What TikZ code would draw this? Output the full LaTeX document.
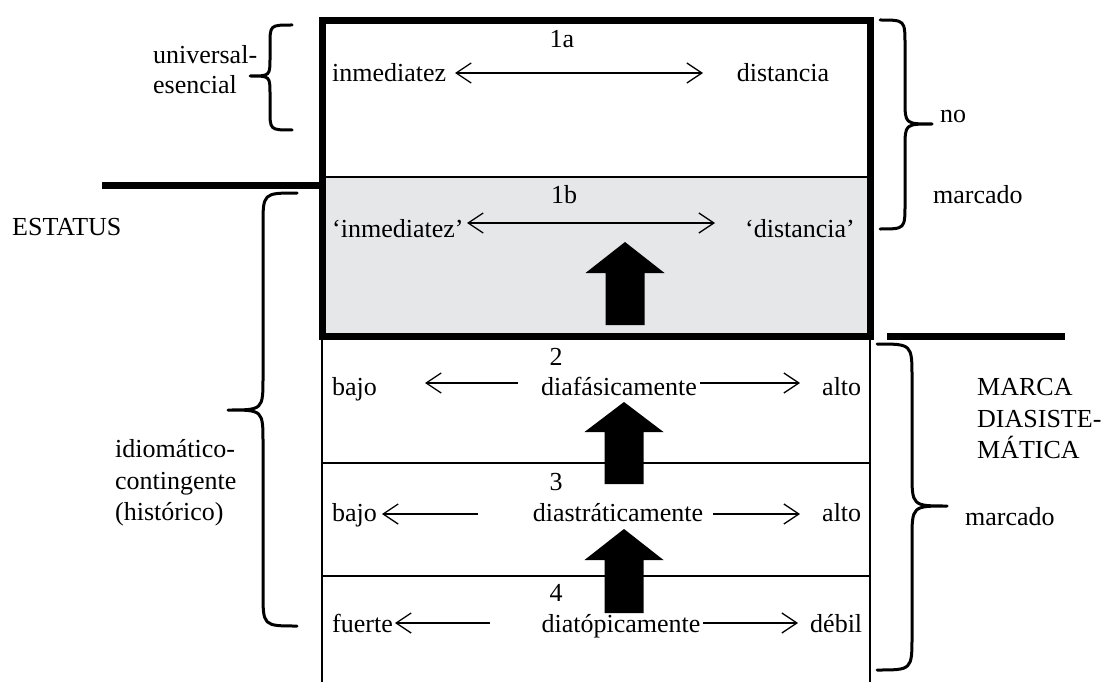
\documentclass[tikz,border=0pt]{standalone}
\usepackage{fontspec}
\setmainfont{Liberation Serif}
\usetikzlibrary{arrows.meta}
\definecolor{panelgray}{RGB}{230,231,232}
\begin{document}
\begin{tikzpicture}[x=1pt,y=-1pt,
  txt/.style={inner sep=0pt, anchor=base west, font=\fontsize{26}{31}\selectfont},
  ctxt/.style={inner sep=0pt, anchor=base, font=\fontsize{26}{31}\selectfont},
  barb/.tip={Straight Barb[length=15pt,width=20pt,line width=1.3pt]},
  thinarrow/.style={line width=1.3pt, -barb},
  dblarrow/.style={line width=1.3pt, barb-barb},
  bracepath/.style={line width=3pt, line cap=round, line join=round},
  heavybar/.style={line width=7pt},
  heavyframe/.style={line width=7pt},
  lightframe/.style={line width=2pt},
  bigarrow/.style={fill=black, draw=none},
]
\useasboundingbox (0,0) rectangle (1103,682);
\fill[white] (0,0) rectangle (1103,682);

% panels
\fill[panelgray] (322,177) rectangle (870,336);
\draw[lightframe] (322,336) -- (322,682);
\draw[lightframe] (870,336) -- (870,682);
\draw[lightframe] (322,463) -- (870,463);
\draw[lightframe] (322,576) -- (870,576);
\draw[line width=2.5pt] (322,177) -- (870,177);
\draw[heavyframe] (322,20.5) rectangle (870,336);

% separating bars
\draw[heavybar] (102,185) -- (322,185);
\draw[heavybar] (887,336) -- (1065,336);

% big arrows
\fill[bigarrow] (625,242) -- (664.5,273) -- (644.5,273) -- (644.5,325) -- (605.5,325) -- (605.5,273) -- (585.5,273) -- cycle;
\fill[bigarrow] (624,402) -- (663.5,432) -- (643.5,432) -- (643.5,484) -- (604.5,484) -- (604.5,432) -- (584.5,432) -- cycle;
\fill[bigarrow] (624,529) -- (663.5,560) -- (643.5,560) -- (643.5,613) -- (604.5,613) -- (604.5,560) -- (584.5,560) -- cycle;

% row 1a
\node[ctxt] (n1a) at (562,48) {1a};
\node[txt] (inm) at (332,82) {inmediatez};
\node[ctxt] (dist) at (783,82) {distancia};
\coordinate (a1l) at (455,73);
\coordinate (a1r) at (703,73);
\draw[dblarrow] (a1l) -- (a1r);

% row 1b
\node[ctxt] (n1b) at (564,203) {1b};
\node[txt] (inmq) at (332,237) {‘inmediatez’};
\node[ctxt] (distq) at (800,237) {‘distancia’};
\coordinate (b1l) at (467,223);
\coordinate (b1r) at (715,223);
\draw[dblarrow] (b1l) -- (b1r);

% row 2
\node[ctxt] (n2) at (556,365) {2};
\node[txt] (bajo2) at (332,395) {bajo};
\node[ctxt] (diaf) at (619,395) {diafásicamente};
\node[txt] (alto2) at (822,395) {alto};
\coordinate (r2a) at (518,383);
\coordinate (r2b) at (425,383);
\coordinate (r2c) at (700,383);
\coordinate (r2d) at (800,383);
\draw[thinarrow] (r2a) -- (r2b);
\draw[thinarrow] (r2c) -- (r2d);

% row 3
\node[ctxt] (n3) at (556,490) {3};
\node[txt] (bajo3) at (332,521) {bajo};
\node[ctxt] (dias) at (618,521) {diastráticamente};
\node[txt] (alto3) at (822,521) {alto};
\coordinate (r3a) at (478,514);
\coordinate (r3b) at (382,514);
\coordinate (r3c) at (713,514);
\coordinate (r3d) at (800,514);
\draw[thinarrow] (r3a) -- (r3b);
\draw[thinarrow] (r3c) -- (r3d);

% row 4
\node[ctxt] (n4) at (556,601) {4};
\node[txt] (fuer) at (332,632) {fuerte};
\node[ctxt] (diat) at (621,632) {diatópicamente};
\node[txt] (debil) at (810,632) {débil};
\coordinate (r4a) at (490,623);
\coordinate (r4b) at (395,623);
\coordinate (r4c) at (703,623);
\coordinate (r4d) at (798,623);
\draw[thinarrow] (r4a) -- (r4b);
\draw[thinarrow] (r4c) -- (r4d);

% left braces
\draw[bracepath] (292,25) .. controls (270,25) .. (270,45) -- (270,58) .. controls (270,76) .. (250,76) .. controls (270,76) .. (270,94) -- (270,110) .. controls (270,130) .. (292,130);
\draw[bracepath] (297,193) .. controls (263,193) .. (263,226) -- (263,377) .. controls (263,410) .. (228,410) .. controls (263,410) .. (263,443) -- (263,592) .. controls (263,626) .. (297,626);

% right braces
\draw[bracepath] (880,20) .. controls (905,20) .. (905,45) -- (905,100) .. controls (905,124) .. (932,124) .. controls (905,124) .. (905,148) -- (905,204) .. controls (905,229) .. (880,229);
\draw[bracepath] (877,344) .. controls (912,344) .. (912,378) -- (912,472) .. controls (912,506) .. (947,506) .. controls (912,506) .. (912,540) -- (912,636) .. controls (912,670) .. (877,670);

% left labels
\node[txt] (univ) at (153,64) {universal-};
\node[txt] (esen) at (153,94) {esencial};
\node[txt] (estat) at (12,235) {ESTATUS};
\node[txt] (idio) at (115,457) {idiomático-};
\node[txt] (cont) at (115,489) {contingente};
\node[txt] (hist) at (115,520) {(histórico)};

% right labels
\node[txt] (no) at (940,123) {no};
\node[txt] (marc1) at (933,203) {marcado};
\node[txt] (marca) at (977,395) {MARCA};
\node[txt] (diasis) at (977,427) {DIASISTE-};
\node[txt] (matica) at (977,458) {MÁTICA};
\node[txt] (marc2) at (965,525) {marcado};
\end{tikzpicture}
\end{document}
